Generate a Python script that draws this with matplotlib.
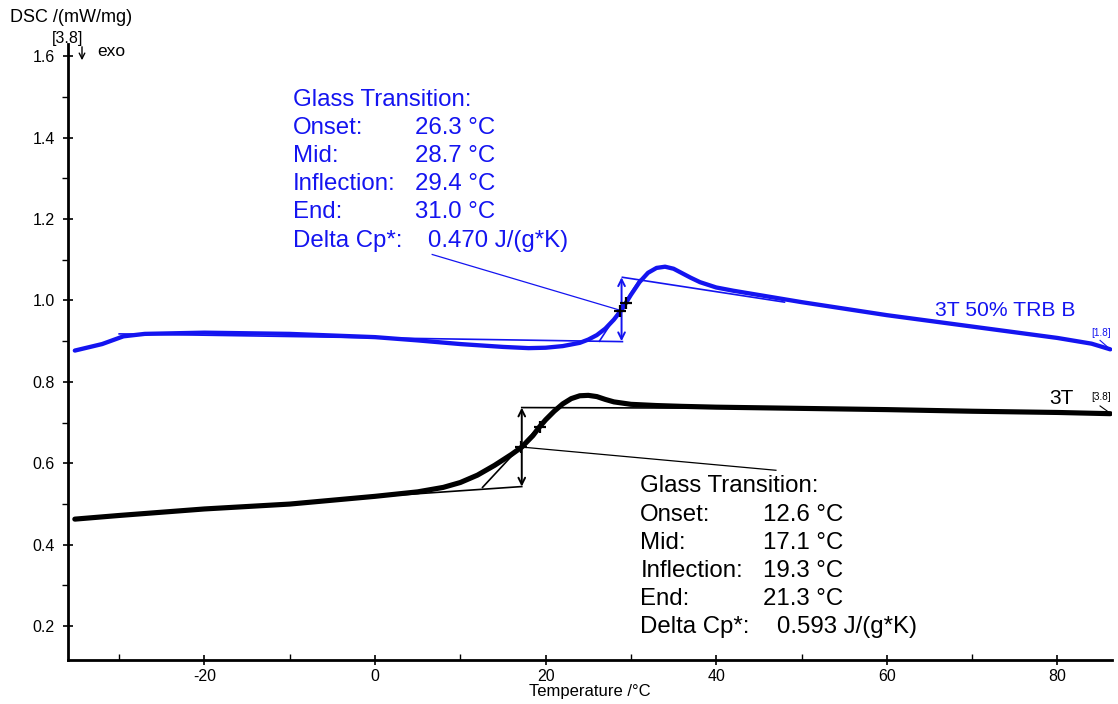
import matplotlib
matplotlib.use("Agg")
import matplotlib.pyplot as plt
from matplotlib.ticker import MultipleLocator

plt.rcParams["font.family"] = ["Liberation Sans", "DejaVu Sans"]
plt.rcParams["axes.unicode_minus"] = False

BLUE = "#1414f0"

# DSC trace: 3T 50% TRB B (blue)
blue_T = [-35.2, -32, -29.5, -27, -20, -10, 0, 5, 10, 15, 18, 20, 22, 24, 25,
          26, 27, 28, 29, 30, 31, 32, 33, 34, 35, 36, 37, 38.1, 40, 42,
          46, 50, 55, 60, 65, 70, 75, 80, 84, 86.2]
blue_dsc = [0.877, 0.893, 0.912, 0.918, 0.921, 0.918, 0.910, 0.902, 0.893, 0.886,
            0.883, 0.884, 0.888, 0.896, 0.904, 0.915, 0.931, 0.953, 0.980, 1.014,
            1.045, 1.068, 1.080, 1.083, 1.078, 1.067, 1.056, 1.045, 1.032, 1.024,
            1.010, 0.996, 0.980, 0.964, 0.950, 0.936, 0.922, 0.908, 0.894, 0.880]

# DSC trace: 3T (black)
black_T = [-35.2, -30, -20, -10, 0, 5, 8, 10, 12, 14, 16, 17.2, 18.5, 19.3, 20,
           21, 22, 23, 24, 25, 26, 27, 28, 30, 33, 36, 40, 50, 60, 70, 80, 86.2]
black_dsc = [0.463, 0.472, 0.488, 0.500, 0.519, 0.530, 0.541, 0.553, 0.571, 0.595,
             0.622, 0.640, 0.668, 0.690, 0.707, 0.728, 0.746, 0.759, 0.766, 0.767,
             0.764, 0.757, 0.751, 0.745, 0.742, 0.740, 0.738, 0.735, 0.732, 0.728,
             0.725, 0.722]

# glass transition evaluation (tangents, step, points)
blue_base = ([-30, 29.0], [0.918, 0.899])
blue_end = ([29.0, 48], [1.057, 0.996])
blue_infl = ([26.3, 31.0], [0.900, 1.051])
blue_step = (28.9, 0.900, 1.057)
blue_pts = ([28.7, 29.4], [0.975, 0.995])
blue_lead = ([6.7, 28.9], [1.113, 0.975])

black_base = ([-5, 17.2], [0.511, 0.543])
black_end = ([17.2, 50], [0.737, 0.735])
black_infl = ([12.6, 21.3], [0.541, 0.737])
black_step = (17.2, 0.543, 0.737)
black_pts = ([17.1, 19.3], [0.640, 0.690])
black_lead = ([17.2, 47.0], [0.640, 0.583])

labels = ["Glass Transition:", "Onset:", "Mid:", "Inflection:", "End:", "Delta Cp*:"]
blue_vals = ["", "26.3 °C", "28.7 °C", "29.4 °C", "31.0 °C", "0.470 J/(g*K)"]
black_vals = ["", "12.6 °C", "17.1 °C", "19.3 °C", "21.3 °C", "0.593 J/(g*K)"]

fig = plt.figure(figsize=(11.18, 7.04), dpi=100)
ax = fig.add_axes([68 / 1118, 1 - 660 / 704, (1112 - 68) / 1118, (660 - 44) / 704])

ax.plot(blue_T, blue_dsc, color=BLUE, lw=3.1, solid_capstyle="round",
        solid_joinstyle="round", zorder=3)
ax.plot(black_T, black_dsc, color="black", lw=3.7, solid_capstyle="round",
        solid_joinstyle="round", zorder=3)


def evaluation(color, base, end, infl, step, pts, lead):
    for xs, ys in (base, end, infl):
        ax.plot(xs, ys, color=color, lw=1.2, zorder=2)
    ax.plot(*lead, color=color, lw=0.9, zorder=2)
    x, y0, y1 = step
    ax.annotate("", xy=(x, y1), xytext=(x, y0),
                arrowprops=dict(arrowstyle="<->", color=color, lw=1.4,
                                shrinkA=0, shrinkB=0, mutation_scale=12))
    ax.plot(*pts, linestyle="none", marker="+", color="black", ms=8, mew=1.6, zorder=4)


evaluation(BLUE, blue_base, blue_end, blue_infl, blue_step, blue_pts, blue_lead)
evaluation("black", black_base, black_end, black_infl, black_step, black_pts, black_lead)

# result blocks (text baselines)
blue_rows = [1.4785, 1.4098, 1.3411, 1.2724, 1.2037, 1.1325]
black_rows = [0.5288, 0.4589, 0.3902, 0.3215, 0.2515, 0.1828]
for i, (lab, bv, kv) in enumerate(zip(labels, blue_vals, black_vals)):
    ax.text(-9.6, blue_rows[i], lab, color=BLUE, fontsize=17.3, va="baseline")
    ax.text(31.1, black_rows[i], lab, color="black", fontsize=17.3, va="baseline")
    if bv:
        ax.text(6.2 if i == 5 else 4.7, blue_rows[i], bv, color=BLUE, fontsize=17.3,
                va="baseline")
        ax.text(47.1 if i == 5 else 45.5, black_rows[i], kv, color="black",
                fontsize=17.3, va="baseline")

ax.text(65.7, 0.975, "3T 50% TRB B", color=BLUE, fontsize=15.2, va="center")
ax.text(79.1, 0.760, "3T", color="black", fontsize=15, va="center")
ax.text(84.0, 0.921, "[1.8]", color=BLUE, fontsize=7.2, va="center")
ax.text(84.0, 0.762, "[3.8]", color="black", fontsize=7.2, va="center")
ax.plot([85.0, 86.2], [0.902, 0.880], color=BLUE, lw=0.8)
ax.plot([85.0, 86.2], [0.741, 0.723], color="black", lw=0.8)

ax.set_xlim(-36, 86.4)
ax.set_ylim(0.117, 1.63)
ax.xaxis.set_major_locator(MultipleLocator(20))
ax.xaxis.set_minor_locator(MultipleLocator(10))
ax.yaxis.set_major_locator(MultipleLocator(0.2))
ax.yaxis.set_minor_locator(MultipleLocator(0.1))
ax.yaxis.set_major_formatter(plt.FuncFormatter(lambda v, p: f"{v:.1f}"))
for s in ("top", "right"):
    ax.spines[s].set_visible(False)
for s in ("left", "bottom"):
    ax.spines[s].set_linewidth(2)
ax.tick_params(which="major", direction="inout", length=7, width=1.2, labelsize=11.5, pad=6)
ax.tick_params(axis="x", which="major", pad=3)
ax.tick_params(axis="x", which="minor", direction="in", length=4, width=1)
ax.tick_params(axis="y", which="minor", direction="out", length=4, width=1)
ax.set_xlabel("Temperature /°C", fontsize=12, labelpad=0)

fig.text(10 / 1118, 1 - 17 / 704, "DSC /(mW/mg)", fontsize=13, va="center")
fig.text(52 / 1118, 1 - 38 / 704, "[3.8]", fontsize=11.5, va="center")
fig.text(97 / 1118, 1 - 52 / 704, "exo", fontsize=12.5, va="center")
fig.add_artist(matplotlib.patches.FancyArrowPatch(
    (82 / 1118, 1 - 44 / 704), (82 / 1118, 1 - 63 / 704), transform=fig.transFigure,
    arrowstyle="->", mutation_scale=10, lw=1, color="black"))

fig.savefig("out.png", dpi=100)
